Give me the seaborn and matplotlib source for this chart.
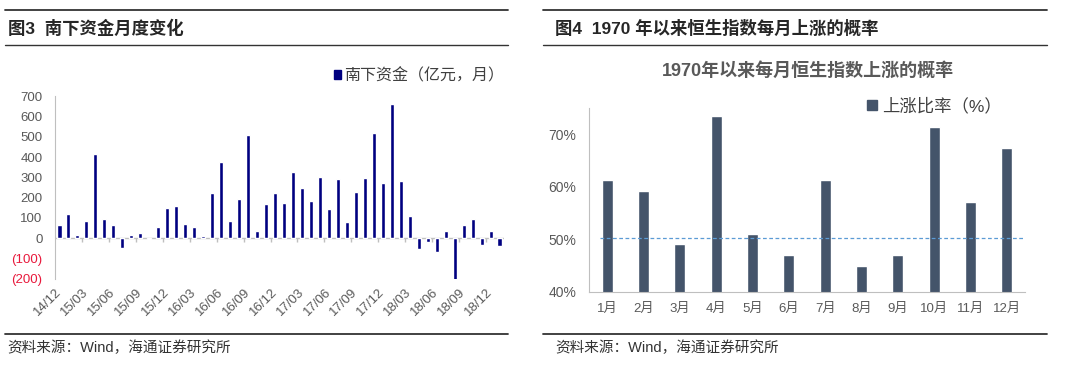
import pandas as pd
import matplotlib.pyplot as plt
import seaborn as sns
from matplotlib.patches import Patch

# 南下资金 monthly, 亿元, 14/12 - 19/01
flow_months = list(pd.period_range("2014-12", periods=50, freq="M").strftime("%y/%m"))
flow_values = [64, 122, 15, 86, 416, 97, 68, -48, 15, 26,
               -5, 58, 149, 157, 69, 54, 13, 224, 373, 84,
               193, 508, 35, 168, 221, 172, 327, 248, 183, 300,
               142, 294, 79, 228, 297, 520, 274, 663, 282, 112,
               -50, -18, -68, 36, -211, 64, 96, -33, 38, -40]

# 恒生指数每月上涨比率 since 1970
hs_months = ["1月", "2月", "3月", "4月", "5月", "6月",
             "7月", "8月", "9月", "10月", "11月", "12月"]
hs_up_ratio = [0.612, 0.592, 0.490, 0.735, 0.510, 0.469,
               0.612, 0.449, 0.469, 0.714, 0.571, 0.673]

sns.set_style("white")
plt.rcParams["font.family"] = ["Liberation Sans", "Noto Sans CJK SC", "DejaVu Sans"]

W, H = 1080, 369
fig = plt.figure(figsize=(W / 100, H / 100), dpi=100)

def fx(px):
    return px / W

def fy(py):
    return 1 - py / H

# header / footer rules and texts
for x0, x1 in [(5, 508), (543, 1047)]:
    for yy, lw in [(10, 1.3), (45, 1.0), (334, 1.3)]:
        fig.add_artist(plt.Line2D([fx(x0), fx(x1)], [fy(yy), fy(yy)], color="#333333", lw=lw))

fig.text(fx(8), fy(28), "图3  南下资金月度变化", fontsize=12.5, fontweight="bold", va="center")
fig.text(fx(555), fy(28), "图4  1970 年以来恒生指数每月上涨的概率", fontsize=12.5,
         fontweight="bold", va="center")
fig.text(fx(7), fy(348), "资料来源：Wind，海通证券研究所", fontsize=10.5, va="center", color="#333333")
fig.text(fx(555), fy(348), "资料来源：Wind，海通证券研究所", fontsize=10.5, va="center", color="#333333")

# ---- left chart
ax1 = fig.add_axes([fx(55), fy(279), fx(449), 183 / H])
df1 = pd.DataFrame({"month": flow_months, "value": flow_values})
sns.barplot(data=df1, x="month", y="value", color="#000080", saturation=1, width=0.45, ax=ax1)
ax1.set_xlim(-0.5, len(flow_months) - 0.5)
ax1.set_ylim(-200, 700)
ax1.set_yticks(range(-200, 701, 100))
ax1.set_yticklabels([f"({-v})" if v < 0 else str(v) for v in range(-200, 701, 100)])
for lab, v in zip(ax1.get_yticklabels(), range(-200, 701, 100)):
    lab.set_color("#E8193C" if v < 0 else "#595959")
ax1.tick_params(axis="y", length=0, pad=9, labelsize=9.5)
ax1.set_xticks(range(0, len(flow_months), 3))
ax1.set_xticklabels(flow_months[::3], rotation=45, ha="right", va="center",
                    rotation_mode="anchor", color="#595959", fontsize=9.5)
ax1.tick_params(axis="x", length=0, pad=8)
ax1.set_xlabel("")
ax1.set_ylabel("")
for s in ["top", "right", "bottom"]:
    ax1.spines[s].set_visible(False)
ax1.spines["left"].set_color("#BFBFBF")
ax1.axhline(0, color="#BFBFBF", lw=1, zorder=0)
ax1.vlines([i - 0.5 for i in range(3, len(flow_months), 3)], -16, 0, color="#BFBFBF", lw=1)
fig.legend(handles=[Patch(color="#000080", label="南下资金（亿元，月）")],
           loc="center left", bbox_to_anchor=(fx(334), fy(75.5)), frameon=False,
           fontsize=11.5, handlelength=0.42, handleheight=0.42, handletextpad=0.2,
           borderpad=0, borderaxespad=0, labelcolor="#404040")

# ---- right chart
ax2 = fig.add_axes([fx(589), fy(291.7), fx(436), 183.7 / H])
df2 = pd.DataFrame({"month": hs_months, "ratio": hs_up_ratio})
sns.barplot(data=df2, x="month", y="ratio", color="#44546A", saturation=1, width=0.31, ax=ax2)
ax2.set_xlim(-0.5, 11.5)
ax2.set_ylim(0.40, 0.75)
ax2.set_yticks([0.4, 0.5, 0.6, 0.7])
ax2.set_yticklabels(["40%", "50%", "60%", "70%"])
ax2.tick_params(axis="y", length=3, color="#BFBFBF", pad=6, labelsize=10, labelcolor="#595959")
ax2.tick_params(axis="x", length=0, pad=8, labelsize=9.5, labelcolor="#595959")
ax2.set_xlabel("")
ax2.set_ylabel("")
for s in ["top", "right"]:
    ax2.spines[s].set_visible(False)
ax2.spines["left"].set_color("#BFBFBF")
ax2.spines["bottom"].set_color("#BFBFBF")
ax2.hlines(0.503, -0.2, 11.55, colors="#5B9BD5", lw=0.9, linestyles=(0, (3, 2)), zorder=3)
fig.text(fx(808), fy(71), "1970年以来每月恒生指数上涨的概率", fontsize=13, fontweight="bold",
         ha="center", va="center", color="#595959")
fig.legend(handles=[Patch(color="#44546A", label="上涨比率（%）")],
           loc="center left", bbox_to_anchor=(fx(867), fy(106)), frameon=False,
           fontsize=12.5, handlelength=0.55, handleheight=0.55, handletextpad=0.3,
           borderpad=0, borderaxespad=0, labelcolor="#404040")

fig.savefig("out.png", dpi=100)
